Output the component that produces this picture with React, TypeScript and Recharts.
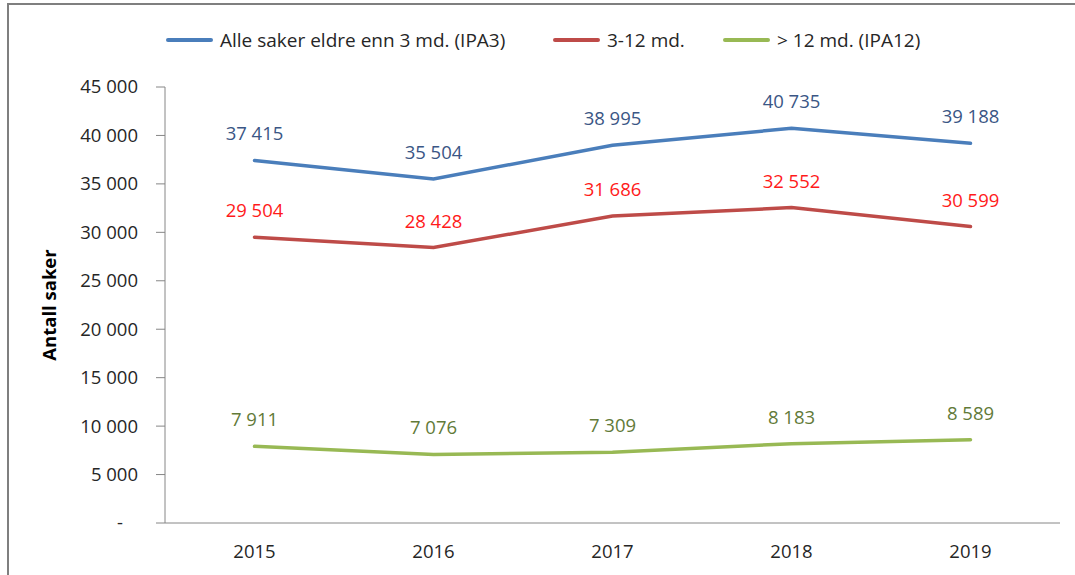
import React from 'react';
import { LabelList, Line, LineChart, XAxis, YAxis } from 'recharts';

const years = ['2015', '2016', '2017', '2018', '2019'];
const olderThan3 = [37415, 35504, 38995, 40735, 39188];
const from3to12 = [29504, 28428, 31686, 32552, 30599];
const olderThan12 = [7911, 7076, 7309, 8183, 8589];
const yTicks = [0, 5000, 10000, 15000, 20000, 25000, 30000, 35000, 40000, 45000];

const series = [
  { key: 'ipa3', name: 'Alle saker eldre enn 3 md. (IPA3)', stroke: '#4A7EBB', label: '#3A5685' },
  { key: 'mid', name: '3-12 md.', stroke: '#BE4B48', label: '#FF1A1A' },
  { key: 'ipa12', name: '> 12 md. (IPA12)', stroke: '#98B954', label: '#627A38' },
];

// legend item left edges, px
const legendX = [166, 553, 723];

const data = years.map((year, i) => ({
  year,
  ipa3: olderThan3[i],
  mid: from3to12[i],
  ipa12: olderThan12[i],
}));

const FONT = '"Open Sans", "Noto Sans", sans-serif';
const AXIS = '#868686';
const FS = 18.5;

const fmt = (n: number) => String(n).replace(/\B(?=(\d{3})+(?!\d))/g, ' ');

const YTick = (props: any) => {
  const { x, y, payload } = props;
  const zero = payload.value === 0;
  return (
    <text
      x={zero ? x - 15 : x}
      y={y}
      dy="0.35em"
      textAnchor="end"
      fill="#262626"
      fontSize={FS}
      fontFamily={FONT}
    >
      {zero ? '-' : fmt(payload.value)}
    </text>
  );
};

const App: React.FC = () => (
  <div style={{ position: 'relative', width: 1075, height: 575, overflow: 'hidden', background: '#fff' }}>
    <style>{'body{margin:0}'}</style>
    <div
      style={{
        position: 'absolute',
        left: 7,
        top: 3,
        width: 1100,
        height: 600,
        borderLeft: '2px solid #7F7F7F',
        borderTop: '2px solid #7F7F7F',
      }}
    />
    {series.map((s, i) => (
      <div
        key={s.key}
        style={{
          position: 'absolute',
          top: 27,
          left: legendX[i],
          display: 'flex',
          alignItems: 'center',
          gap: 7,
          fontFamily: FONT,
          fontSize: 19,
          color: '#262626',
          whiteSpace: 'nowrap',
        }}
      >
        <span style={{ display: 'inline-block', width: 47, height: 4, borderRadius: 2, background: s.stroke }} />
        <span>{s.name}</span>
      </div>
    ))}
    <LineChart
      width={1075}
      height={575}
      data={data}
      margin={{ top: 87, right: 15, bottom: 11, left: 0 }}
      style={{ position: 'absolute', left: 0, top: 0 }}
    >
      <XAxis
        xAxisId="edges"
        type="number"
        domain={[0, years.length]}
        ticks={[...years.map((_, i) => i), years.length]}
        interval={0}
        tick={false}
        tickSize={8}
        height={1}
        stroke={AXIS}
        allowDataOverflow
      />
      <XAxis
        xAxisId="years"
        dataKey="year"
        scale="band"
        height={40}
        axisLine={false}
        tickLine={false}
        tickSize={8}
        tickMargin={13}
        tick={{ fill: '#262626', fontSize: FS, fontFamily: FONT }}
      />
      <YAxis
        width={165}
        domain={[0, 45000]}
        ticks={yTicks}
        interval={0}
        stroke={AXIS}
        tickSize={9}
        tickMargin={18}
        tick={<YTick />}
        label={{
          content: ({ viewBox }: any) => (
            <text
              transform={`translate(50, ${viewBox.y + viewBox.height / 2}) rotate(-90)`}
              textAnchor="middle"
              dy="0.35em"
              fontSize={FS}
              fontWeight="bold"
              fontFamily={FONT}
              fill="#000"
            >
              Antall saker
            </text>
          ),
        }}
      />
      {series.map((s) => (
        <Line
          key={s.key}
          xAxisId="years"
          dataKey={s.key}
          name={s.name}
          type="linear"
          stroke={s.stroke}
          strokeWidth={3.5}
          strokeLinecap="round"
          dot={false}
          activeDot={false}
          isAnimationActive={false}
        >
          <LabelList
            dataKey={s.key}
            position="top"
            offset={20}
            formatter={(v: any) => fmt(Number(v))}
            fill={s.label}
            fontSize={FS}
            fontFamily={FONT}
          />
        </Line>
      ))}
    </LineChart>
  </div>
);

export default App;
